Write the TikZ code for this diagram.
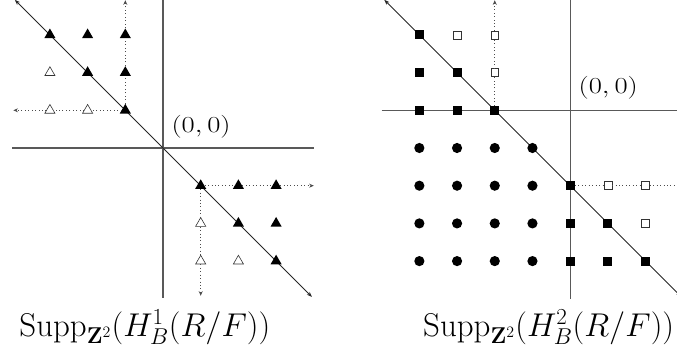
\documentclass[tikz,border=0pt]{standalone}
\usepackage{graphicx}
\usetikzlibrary{shapes.geometric,arrows.meta}
\begin{document}
\begin{tikzpicture}[
  axis/.style={draw=black!65, line width=0.9pt},
  diag/.style={draw=black!85, line width=0.6pt, {Stealth[length=4pt,width=3pt]}-{Stealth[length=4pt,width=3pt]}},
  dotarr/.style={draw=black!70, dotted, line width=0.6pt, -{Stealth[length=3.5pt,width=3pt]}},
  dotln/.style={draw=black!70, dotted, line width=0.6pt},
  ftri/.style={regular polygon, regular polygon sides=3, fill=black, inner sep=0pt, minimum size=0.34cm},
  otri/.style={regular polygon, regular polygon sides=3, draw=black!80, fill=white, line width=0.45pt, inner sep=0pt, minimum size=0.31cm},
  fsq/.style={rectangle, fill=black, inner sep=0pt, minimum size=0.24cm},
  osq/.style={rectangle, draw=black!80, fill=white, line width=0.45pt, inner sep=0pt, minimum size=0.21cm},
  fdot/.style={circle, fill=black, inner sep=0pt, minimum size=0.27cm},
  olbl/.style={font=\fontsize{17}{20}\selectfont, inner sep=0pt, anchor=base},
  tlbl/.style={font=\fontsize{23.5}{28}\selectfont, inner sep=0pt, anchor=base}
]
\useasboundingbox (-4.324,-5.464) rectangle (13.634,3.926);

% ---------- left panel ----------
\coordinate (LaxL) at (-4,0);
\coordinate (LaxR) at (4,0);
\coordinate (LaxT) at (0,4.0);
\coordinate (LaxB) at (0,-3.98);
\coordinate (LdA) at (-3.93,3.93);
\coordinate (LdB) at (3.95,-3.95);
\draw[axis] (LaxL) -- (LaxR);
\draw[axis] (LaxT) -- (LaxB);
\draw[diag] (LdA) -- (LdB);

\node[ftri] (Lm3p3) at (-3,3) {};
\node[ftri] (Lm2p3) at (-2,3) {};
\node[ftri] (Lm1p3) at (-1,3) {};
\node[ftri] (Lm2p2) at (-2,2) {};
\node[ftri] (Lm1p2) at (-1,2) {};
\node[ftri] (Lm1p1) at (-1,1) {};
\node[otri] (Lm3p2) at (-3,2) {};
\node[otri] (Lm3p1) at (-3,1) {};
\node[otri] (Lm2p1) at (-2,1) {};

\node[ftri] (Lp1m1) at (1,-1) {};
\node[ftri] (Lp2m1) at (2,-1) {};
\node[ftri] (Lp3m1) at (3,-1) {};
\node[ftri] (Lp2m2) at (2,-2) {};
\node[ftri] (Lp3m2) at (3,-2) {};
\node[ftri] (Lp3m3) at (3,-3) {};
\node[otri] (Lp1m2) at (1,-2) {};
\node[otri] (Lp1m3) at (1,-3) {};
\node[otri] (Lp2m3) at (2,-3) {};

\coordinate (LupEnd) at (-1,3.92);
\coordinate (LleftEnd) at (-3.97,1);
\coordinate (LrightEnd) at (4.0,-1);
\coordinate (LdownEnd) at (1,-3.92);
\draw[dotln] (Lm1p1) -- (Lm1p2) -- (Lm1p3);
\draw[dotarr] (Lm1p3) -- (LupEnd);
\draw[dotln] (Lm1p1) -- (Lm2p1) -- (Lm3p1);
\draw[dotarr] (Lm3p1) -- (LleftEnd);
\draw[dotln] (Lp1m1) -- (Lp2m1) -- (Lp3m1);
\draw[dotarr] (Lp3m1) -- (LrightEnd);
\draw[dotln] (Lp1m1) -- (Lp1m2) -- (Lp1m3);
\draw[dotarr] (Lp1m3) -- (LdownEnd);

\node[olbl] (Lorig) at (1.01,0.41) {\scalebox{1.25}[1]{$(0,0)$}};
\node[tlbl] (Ltitle) at (-0.48,-4.99) {$\mathrm{Supp}_{\mathbf{Z}^2}(H^1_B(R/F))$};

% ---------- right panel ----------
\begin{scope}[shift={(10.8,1)}]
\coordinate (RaxL) at (-5,0);
\coordinate (RaxR) at (3.2,0);
\coordinate (RaxT) at (0,3.0);
\coordinate (RaxB) at (0,-5.0);
\coordinate (RdA) at (-4.93,2.93);
\coordinate (RdB) at (2.95,-4.95);
\draw[axis] (RaxL) -- (RaxR);
\draw[axis] (RaxT) -- (RaxB);
\draw[diag] (RdA) -- (RdB);

\foreach \i/\n in {-4/m4,-3/m3,-2/m2,-1/m1}{
  \foreach \j/\m in {-1/m1,-2/m2,-3/m3,-4/m4}{
    \node[fdot] (R\n\m) at (\i,\j) {};
  }
}

\node[fsq] (Rm4p2) at (-4,2) {};
\node[fsq] (Rm4p1) at (-4,1) {};
\node[fsq] (Rm3p1) at (-3,1) {};
\node[fsq] (Rm4z) at (-4,0) {};
\node[fsq] (Rm3z) at (-3,0) {};
\node[fsq] (Rm2z) at (-2,0) {};
\node[osq] (Rm3p2) at (-3,2) {};
\node[osq] (Rm2p2) at (-2,2) {};
\node[osq] (Rm2p1) at (-2,1) {};

\node[fsq] (Rzm2) at (0,-2) {};
\node[fsq] (Rzm3) at (0,-3) {};
\node[fsq] (Rp1m3) at (1,-3) {};
\node[fsq] (Rzm4) at (0,-4) {};
\node[fsq] (Rp1m4) at (1,-4) {};
\node[fsq] (Rp2m4) at (2,-4) {};
\node[osq] (Rp1m2) at (1,-2) {};
\node[osq] (Rp2m2) at (2,-2) {};
\node[osq] (Rp2m3) at (2,-3) {};

\coordinate (RupEnd) at (-2,2.92);
\coordinate (RrightEnd) at (3.0,-2);
\draw[dotln] (Rm2z) -- (Rm2p1) -- (Rm2p2);
\draw[dotarr] (Rm2p2) -- (RupEnd);
\draw[dotln] (Rzm2) -- (Rp1m2) -- (Rp2m2);
\draw[dotarr] (Rp2m2) -- (RrightEnd);

\node[olbl] (Rorig) at (1.01,0.44) {\scalebox{1.25}[1]{$(0,0)$}};
\end{scope}
\node[tlbl] (Rtitle) at (10.23,-4.99) {$\mathrm{Supp}_{\mathbf{Z}^2}(H^2_B(R/F))$};
\end{tikzpicture}
\end{document}
